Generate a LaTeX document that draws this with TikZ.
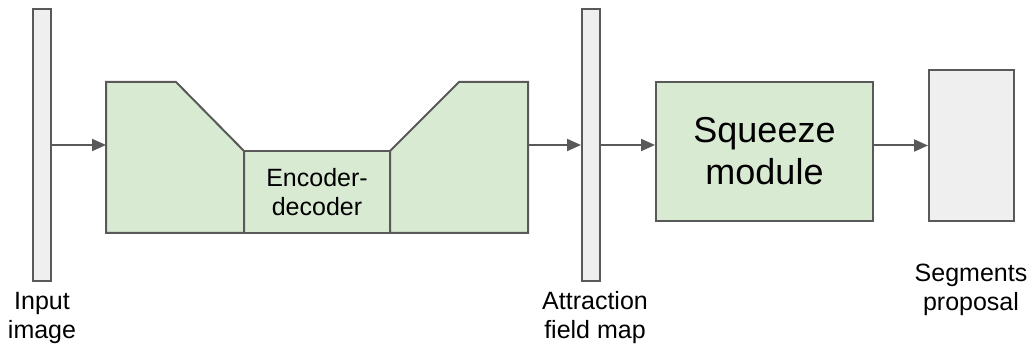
\documentclass[tikz,border=0pt]{standalone}
\usepackage{fontspec}
\setmainfont{Liberation Sans}
\usetikzlibrary{arrows.meta}
\definecolor{lc}{HTML}{595959}
\definecolor{gfill}{HTML}{D9EAD3}
\definecolor{bfill}{HTML}{EFEFEF}
\begin{document}
\begin{tikzpicture}[x=1pt,y=-1pt,
 blk/.style={draw=lc, line width=2pt, fill=gfill, line join=miter},
 bar/.style={draw=lc, line width=2pt, fill=bfill, minimum width=18pt, minimum height=272pt, inner sep=0pt},
 conn/.style={draw=lc, line width=2pt, -{Triangle[length=14pt,width=12pt]}},
 lbl/.style={font=\fontsize{25}{29}\selectfont, align=center, inner sep=0pt}]
\useasboundingbox (0,0) rectangle (1035,347);
% bars
\node[bar] (inp) at (42,145) {};
\node[bar] (attr) at (591,145) {};
% encoder-decoder middle
\node[blk, minimum width=146pt, minimum height=82pt, inner sep=0pt, outer sep=0pt, lbl] (enc) at (317,192) {Encoder-\\decoder};
% trapezoids
\draw[blk] (106,82) -- (176,82) -- (enc.north west) -- (enc.south west) -- (106,233) -- cycle;
\draw[blk] (enc.north east) -- (459,82) -- (528,82) -- (528,233) -- (enc.south east) -- cycle;
\coordinate (lt) at (106,145);
\coordinate (rt) at (528,145);
% squeeze
\node[blk, minimum width=217pt, minimum height=139pt, inner sep=0pt, align=center, font=\fontsize{36}{42}\selectfont] (sq) at (764.5,151.5) {Squeeze\\module};
% segments
\node[draw=lc, line width=2pt, fill=bfill, minimum width=85pt, minimum height=151pt, inner sep=0pt] (seg) at (971.5,145.5) {};
% connectors
\draw[conn] (inp.east) -- (lt);
\draw[conn] (rt) -- (attr.west);
\draw[conn] (attr.east) -- (attr.east -| sq.west);
\draw[conn] (sq.east |- seg.west) -- (seg.west);
% labels
\node[lbl] (linp) at (42,318) {Input\\image};
\node[lbl] (lattr) at (595,318) {Attraction\\field map};
\node[lbl] (lseg) at (971,290) {Segments\\proposal};
\end{tikzpicture}
\end{document}
